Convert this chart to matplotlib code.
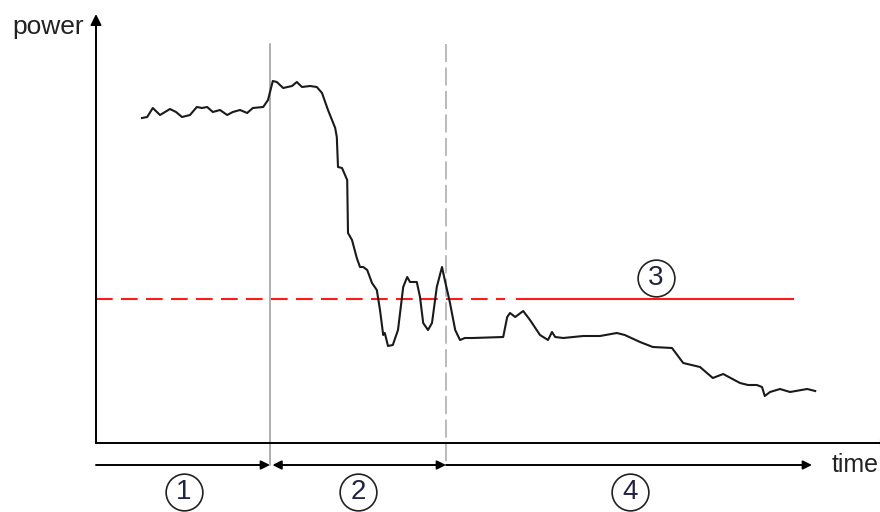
import matplotlib
matplotlib.use("Agg")
import matplotlib.pyplot as plt
import numpy as np

plt.rcParams['font.family'] = ['Liberation Sans', 'DejaVu Sans']

# measured power trace (arbitrary units)
time = [5.75, 6.4, 7.1, 8.0, 9.25, 10.0, 10.75, 11.75, 12.6, 13.25, 13.9, 14.6,
        15.5, 16.4, 17.1, 18.0, 18.9, 19.6, 20.9, 21.5, 22.1, 22.6, 23.4, 24.5,
        25.1, 25.75, 26.75, 27.6, 28.25, 29.0, 29.9, 30.1, 30.25, 30.75, 31.4,
        31.5, 32.0, 32.6, 33.0, 33.4, 33.9, 34.5, 35.1, 35.5, 35.9, 36.1, 36.5,
        37.1, 37.75, 38.4, 38.9, 39.25, 40.1, 40.5, 40.9, 41.5, 42.0, 42.6, 43.25,
        43.6, 44.25, 44.9, 45.5, 46.1, 47.1, 50.9, 51.4, 51.75, 52.4, 53.4, 54.25,
        55.5, 56.5, 57.0, 57.4, 58.4, 60.9, 63.0, 65.1, 66.1, 68.0, 69.6, 72.0,
        73.4, 75.5, 77.1, 78.4, 80.5, 81.5, 82.6, 83.25, 83.6, 84.25, 85.5, 86.75,
        88.9, 89.9]
power = [81.25, 81.5, 83.75, 82.0, 83.5, 82.75, 81.5, 82.0, 84.0, 83.75, 84.0, 82.75,
         83.25, 82.0, 82.75, 83.25, 82.5, 83.75, 84.0, 85.75, 90.5, 90.25, 88.75, 89.25,
         90.25, 89.0, 89.25, 89.0, 87.5, 83.25, 78.75, 76.5, 69.0, 68.75, 65.75,
         52.5, 50.75, 46.25, 44.0, 44.0, 43.25, 40.0, 38.25, 33.25, 27.0, 27.5, 24.25,
         24.5, 28.25, 39.0, 41.5, 40.25, 40.25, 36.5, 30.0, 28.25, 30.0, 39.0, 44.0,
         40.75, 35.0, 28.25, 25.75, 26.25, 26.25, 26.5, 31.5, 32.5, 31.5, 33.0, 30.75,
         27.0, 25.75, 27.75, 26.5, 26.25, 26.75, 26.75, 27.5, 27.0, 25.25, 24.0, 23.75,
         20.0, 19.0, 16.25, 17.25, 15.0, 14.5, 14.5, 14.0, 11.75, 12.75, 13.5, 12.75,
         13.5, 13.0]

threshold = 36.0
threshold_dashed = [0.0, 51.1]
threshold_solid = [52.6, 87.1]
phase_bounds = [21.75, 43.75]
time_end = 89.5

phase_labels = ['1', '2', '4']
phase_label_t = [11.0, 32.75, 66.75]
threshold_label = '3'
threshold_label_t = 70.0

fig = plt.figure(figsize=(8.8, 5.12), dpi=100)
ax = fig.add_axes([0, 0, 1, 1])
ax.set_xlim(-12, 98)
ax.set_ylim(-17.25, 110.75)
ax.axis('off')

# axes with arrows
arrow = dict(arrowstyle='-|>', color='black', lw=1.4, mutation_scale=16,
             shrinkA=0, shrinkB=0)
ax.annotate('', xy=(0, 107.25), xytext=(0, 0), arrowprops=arrow)
ax.annotate('', xy=(99.5, 0), xytext=(0, 0), arrowprops=arrow, annotation_clip=False)

# phase boundaries
ax.plot([phase_bounds[0]] * 2, [99.75, -5.5], color='#9a9a9a', lw=1.1)
ax.plot([phase_bounds[1]] * 2, [99.75, -5.5], color='#b5b5b5', lw=1.3,
        linestyle=(0, (10, 3)))

# threshold line
ax.plot(threshold_dashed, [threshold] * 2, color='#ff1a1a', lw=1.5,
        linestyle=(0, (8, 4)))
ax.plot(threshold_solid, [threshold] * 2, color='#ff1a1a', lw=1.5)

# power curve
ax.plot(time, power, color='#1a1a1a', lw=1.5, solid_joinstyle='round')

# phase arrows below the time axis
small = dict(color='black', lw=1.4, mutation_scale=13, shrinkA=0, shrinkB=0)
ax.annotate('', xy=(phase_bounds[0], -5.5), xytext=(0, -5.5),
            arrowprops=dict(arrowstyle='-|>', **small), annotation_clip=False)
ax.annotate('', xy=(phase_bounds[1], -5.5), xytext=(phase_bounds[0] + 0.3, -5.5),
            arrowprops=dict(arrowstyle='<|-|>', **small), annotation_clip=False)
ax.annotate('', xy=(time_end, -5.5), xytext=(phase_bounds[1], -5.5),
            arrowprops=dict(arrowstyle='-|>', **small), annotation_clip=False)

# circled labels
circ_t = phase_label_t + [threshold_label_t]
circ_p = [-12.25] * 3 + [41.3]
ax.scatter(circ_t, circ_p, s=700, facecolor='white', edgecolor='#222222',
           lw=1.2, zorder=5, clip_on=False)
for lab, t, p in zip(phase_labels + [threshold_label], circ_t, circ_p):
    ax.text(t, p, lab, fontsize=20, ha='center', va='center', color='#222244',
            zorder=6)

ax.text(-10.5, 104, 'power', fontsize=19, ha='left', va='center', color='#222222')
ax.text(91.9, -5.6, 'time', fontsize=18, ha='left', va='center', color='#222222')

fig.savefig('out.png', dpi=100)
